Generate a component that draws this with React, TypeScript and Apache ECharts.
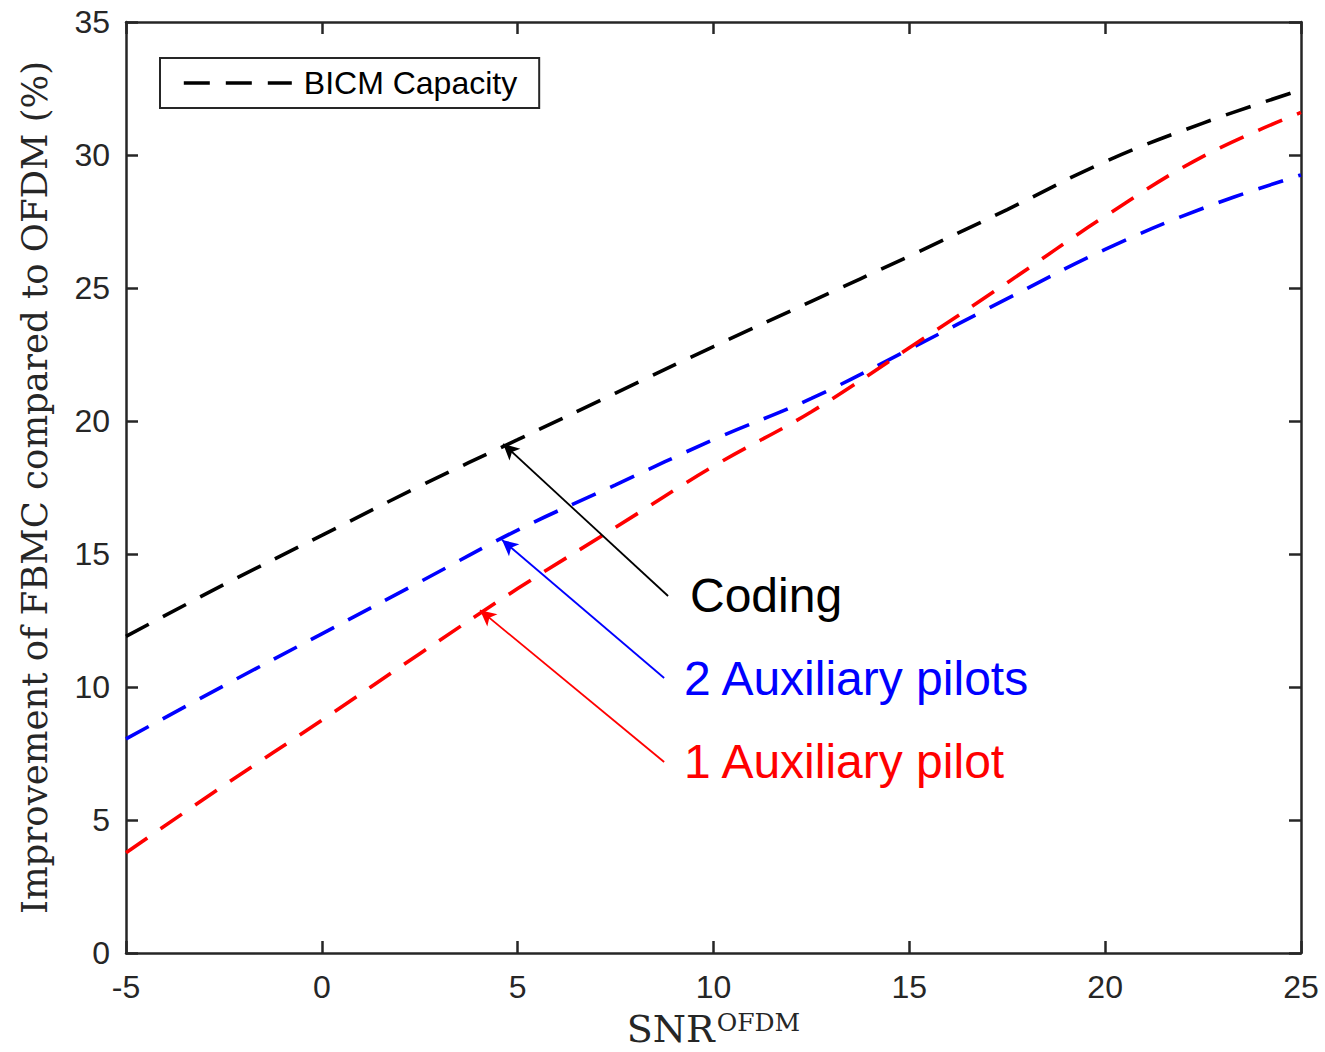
import React, { useEffect, useRef } from "react";
import * as echarts from "echarts";

// ---- data ----
const snr = [-5, -2.5, 0, 2.5, 5, 7.5, 10, 12.5, 15, 17.5, 20, 22.5, 25];
const bicmCapacity = [11.9, 13.85, 15.7, 17.55, 19.3, 21.05, 22.8, 24.5, 26.2, 27.95, 29.75, 31.2, 32.45];
const twoPilots = [8.05, 10.05, 12.0, 13.95, 15.9, 17.6, 19.3, 20.85, 22.7, 24.6, 26.45, 28.0, 29.25];
const onePilot = [3.77, 6.3, 8.75, 11.25, 13.7, 16.0, 18.3, 20.35, 22.75, 25.2, 27.7, 29.95, 31.6];

const xTicks = { min: -5, max: 25, interval: 5 };
const yTicks = { min: 0, max: 35, interval: 5 };

// annotation arrows: [tail, tip] in data coordinates
const arrowCoding = [[8.84, 13.42], [4.63, 19.14]];
const arrowTwo = [[8.74, 10.34], [4.6, 15.53]];
const arrowOne = [[8.74, 7.18], [4.04, 12.89]];

const SANS = "'Liberation Sans', Arial, Helvetica, sans-serif";
const SERIF = "'DejaVu Serif', 'Liberation Serif', serif";
const AX = "#262626";

function pairs(ys: number[]) {
  return snr.map((x, i) => [x, ys[i]]);
}

function arrowMark(a: number[][], color: string) {
  return {
    silent: true,
    symbol: ["none", "arrow"],
    symbolSize: [12, 16],
    label: { show: false },
    lineStyle: { type: "solid", width: 1.8, color },
    emphasis: { disabled: true },
    data: [[{ coord: a[0] }, { coord: a[1] }]],
  };
}

function lineSeries(name: string, ys: number[], color: string, arrow: number[][]) {
  return {
    name,
    type: "line",
    data: pairs(ys),
    smooth: 0.4,
    symbol: "none",
    xAxisIndex: 0,
    yAxisIndex: 0,
    lineStyle: { color, width: 3.6, type: [26, 16] },
    itemStyle: { color },
    markLine: arrowMark(arrow, color),
    z: 3,
  };
}

function axisCommon() {
  return {
    axisLine: { show: true, onZero: false, lineStyle: { color: AX, width: 2.5 } },
    axisTick: { show: true, inside: true, length: 12, lineStyle: { color: AX, width: 2.5 } },
    splitLine: { show: false },
  };
}

const option = {
  animation: false,
  backgroundColor: "#ffffff",
  grid: { left: 126, top: 22, right: 24, bottom: 99, containLabel: false, outerBoundsMode: "none" },
  legend: {
    data: ["BICM Capacity"],
    left: 160,
    top: 58,
    orient: "vertical",
    padding: [6, 22, 6, 22],
    itemWidth: 108,
    itemHeight: 14,
    borderColor: AX,
    borderWidth: 2,
    borderRadius: 0,
    backgroundColor: "#ffffff",
    itemStyle: { opacity: 0, borderWidth: 0 },
    lineStyle: { width: 3.6 },
    textStyle: { fontSize: 32, fontFamily: SANS, color: "#000", lineHeight: 38, padding: [0, 0, 0, 7] },
    selectedMode: false,
  },
  xAxis: [
    {
      type: "value",
      position: "bottom",
      ...xTicks,
      ...axisCommon(),
      axisLabel: { fontSize: 32, fontFamily: SANS, color: AX, margin: 18 },
      name: "{a|SNR}{b|OFDM}",
      nameLocation: "middle",
      nameGap: 57,
      nameTextStyle: {
        rich: {
          a: { fontSize: 38, fontFamily: SERIF, color: AX, lineHeight: 38 },
          b: { fontSize: 25, fontFamily: SERIF, color: AX, verticalAlign: "top", lineHeight: 38, padding: [0, 0, 0, 2] },
        },
      },
    },
    {
      type: "value",
      position: "top",
      ...xTicks,
      ...axisCommon(),
      axisLabel: { show: false },
    },
  ],
  yAxis: [
    {
      type: "value",
      position: "left",
      ...yTicks,
      ...axisCommon(),
      axisLabel: { fontSize: 32, fontFamily: SANS, color: AX, margin: 16 },
      name: "Improvement of FBMC compared to OFDM (%)",
      nameLocation: "middle",
      nameRotate: 90,
      nameGap: 74,
      nameTextStyle: { fontSize: 35.5, fontFamily: SERIF, color: AX },
    },
    {
      type: "value",
      position: "right",
      ...yTicks,
      ...axisCommon(),
      axisLabel: { show: false },
    },
  ],
  series: [
    lineSeries("BICM Capacity", bicmCapacity, "#000000", arrowCoding),
    lineSeries("2 Auxiliary pilots", twoPilots, "#0000ff", arrowTwo),
    lineSeries("1 Auxiliary pilot", onePilot, "#ff0000", arrowOne),
  ],
  graphic: [
    {
      type: "text",
      x: 690,
      y: 595,
      style: { text: "Coding", fontSize: 48, fontFamily: SANS, fill: "#000000", align: "left", verticalAlign: "middle" },
    },
    {
      type: "text",
      x: 684,
      y: 678,
      style: { text: "2 Auxiliary pilots", fontSize: 48, fontFamily: SANS, fill: "#0000ff", align: "left", verticalAlign: "middle" },
    },
    {
      type: "text",
      x: 684,
      y: 761,
      style: { text: "1 Auxiliary pilot", fontSize: 48, fontFamily: SANS, fill: "#ff0000", align: "left", verticalAlign: "middle" },
    },
  ],
};

export default function App() {
  const ref = useRef<HTMLDivElement>(null);
  useEffect(() => {
    if (!ref.current) return;
    const chart = echarts.init(ref.current, null, { renderer: "svg" });
    chart.setOption(option as any);
    return () => chart.dispose();
  }, []);
  return (
    <div
      ref={ref}
      style={{ position: "absolute", left: 0, top: 0, width: 1325, height: 1052, background: "#fff" }}
    />
  );
}
